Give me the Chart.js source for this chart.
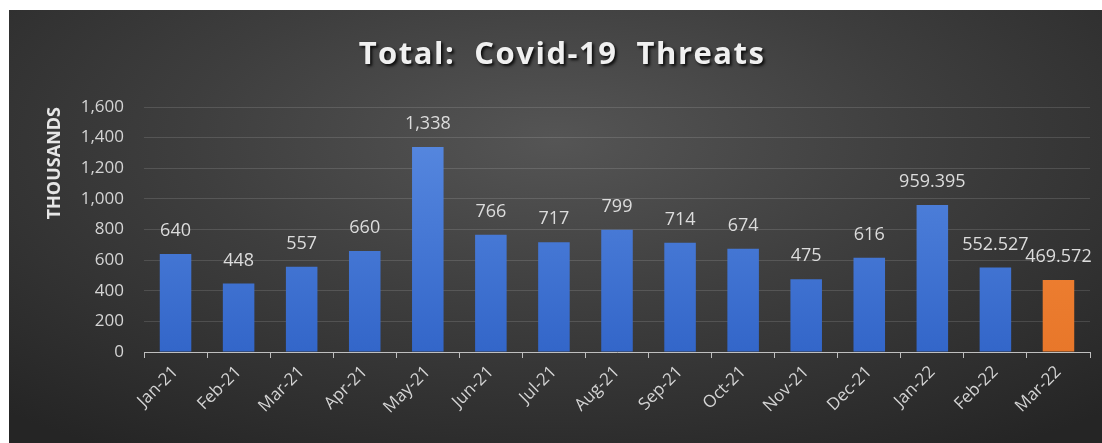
<!DOCTYPE html>
<html>
<head>
<meta charset="utf-8">
<script src="https://cdn.jsdelivr.net/npm/chart.js@4"></script>
<style>
  body { margin: 0; background: #fff; }
  #wrap {
    position: absolute; left: 9px; top: 10px; width: 1093px; height: 433px;
    background: radial-gradient(ellipse 75% 85% at 50% 30%, #555555 0%, #3e3e3e 45%, #252525 100%);
  }
</style>
</head>
<body>
<div id="wrap"><canvas id="threatChart"></canvas></div>
<script>
        // Chart data (thousands)
        const months = ['Jan-21', 'Feb-21', 'Mar-21', 'Apr-21', 'May-21', 'Jun-21', 'Jul-21', 'Aug-21',
                        'Sep-21', 'Oct-21', 'Nov-21', 'Dec-21', 'Jan-22', 'Feb-22', 'Mar-22'];
        const threats = [640, 448, 557, 660, 1338, 766, 717, 799, 714, 674, 475, 616, 959.395, 552.527, 469.572];
        const yTicks = [0, 200, 400, 600, 800, 1000, 1200, 1400, 1600];
        const chartTitle = 'Total:  Covid-19  Threats';

        const FONT = '"Open Sans", "Liberation Sans", sans-serif';

        // Bar fill: blue gradient, last month orange
        function barFill(ctx) {
            const chart = ctx.chart;
            const area = chart.chartArea;
            if (!area) return '#4472c4';
            const g = chart.ctx.createLinearGradient(0, area.top, 0, area.bottom);
            if (ctx.dataIndex === threats.length - 1) {
                g.addColorStop(0, '#f58a3c');
                g.addColorStop(1, '#e8772a');
            } else {
                g.addColorStop(0, '#5b8ce2');
                g.addColorStop(1, '#3366c9');
            }
            return g;
        }

        // Value labels above bars
        const valueLabels = {
            id: 'valueLabels',
            afterDatasetsDraw(chart) {
                const ctx = chart.ctx;
                const meta = chart.getDatasetMeta(0);
                ctx.save();
                ctx.font = '18px ' + FONT;
                ctx.fillStyle = '#dcdcdc';
                ctx.textAlign = 'center';
                ctx.textBaseline = 'middle';
                meta.data.forEach((bar, i) => {
                    const txt = threats[i].toLocaleString('en-US', { maximumFractionDigits: 3 });
                    ctx.fillText(txt, bar.x, bar.y - 23);
                });
                ctx.restore();
            }
        };

        // Title with soft shadow
        const shadowTitle = {
            id: 'shadowTitle',
            afterDraw(chart) {
                const ctx = chart.ctx;
                ctx.save();
                ctx.font = 'bold 31px ' + FONT;
                ctx.letterSpacing = '1.5px';
                ctx.fillStyle = '#f0f0f0';
                ctx.textAlign = 'center';
                ctx.textBaseline = 'middle';
                ctx.shadowColor = 'rgba(0,0,0,0.85)';
                ctx.shadowOffsetX = 2;
                ctx.shadowOffsetY = 2;
                ctx.shadowBlur = 3;
                ctx.fillText(chartTitle, 553, 45);
                ctx.restore();
            }
        };

        const ctx = document.getElementById('threatChart').getContext('2d');
        new Chart(ctx, {
            type: 'bar',
            data: {
                labels: months,
                datasets: [{
                    label: 'Threats',
                    data: threats,
                    backgroundColor: barFill,
                    categoryPercentage: 1,
                    barPercentage: 0.5
                }]
            },
            options: {
                responsive: true,
                maintainAspectRatio: false,
                animation: false,
                layout: { padding: { top: 97, right: 12, left: 0, bottom: 0 } },
                scales: {
                    x: {
                        afterFit(scale) { scale.height = 91; },
                        grid: {
                            display: true,
                            drawOnChartArea: false,
                            drawTicks: true,
                            tickLength: 6,
                            color: '#bfbfbf'
                        },
                        border: { display: true, color: '#bfbfbf', width: 1 },
                        ticks: {
                            color: '#d4d4d4',
                            font: { family: FONT, size: 17 },
                            minRotation: 45,
                            maxRotation: 45,
                            padding: 4
                        }
                    },
                    y: {
                        min: 0,
                        max: 1600,
                        afterFit(scale) { scale.width = 135; },
                        afterBuildTicks(scale) { scale.ticks = yTicks.map(v => ({ value: v })); },
                        grid: {
                            color: 'rgba(255,255,255,0.13)',
                            drawTicks: false
                        },
                        border: { display: false },
                        ticks: {
                            color: '#d4d4d4',
                            font: { family: FONT, size: 17 },
                            padding: 20
                        },
                        title: {
                            display: true,
                            text: 'THOUSANDS',
                            align: 'end',
                            color: '#e6e6e6',
                            font: { family: FONT, size: 18, weight: 'bold' },
                            padding: { top: 35, bottom: 0 }
                        }
                    }
                },
                plugins: {
                    legend: { display: false },
                    tooltip: { enabled: false },
                    title: { display: false }
                }
            },
            plugins: [valueLabels, shadowTitle]
        });
</script>
</body>
</html>
